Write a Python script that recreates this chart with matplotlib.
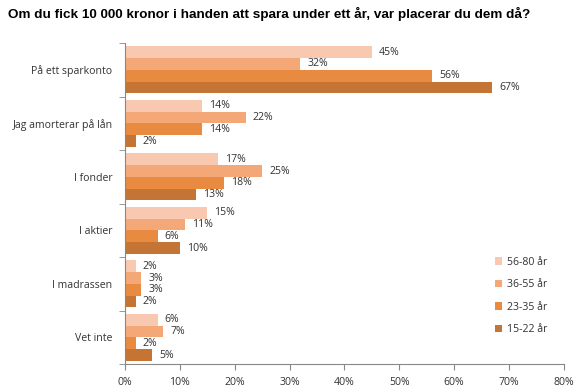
import numpy as np
import matplotlib
import matplotlib.pyplot as plt
from matplotlib.ticker import FixedLocator, PercentFormatter

plt.rcParams['font.family'] = ['Open Sans', 'DejaVu Sans']

categories = ['På ett sparkonto', 'Jag amorterar på lån', 'I fonder',
              'I aktier', 'I madrassen', 'Vet inte']
series = ['56-80 år', '36-55 år', '23-35 år', '15-22 år']
v_56_80 = [45, 14, 17, 15, 2, 6]
v_36_55 = [32, 22, 25, 11, 3, 7]
v_23_35 = [56, 14, 18, 6, 3, 2]
v_15_22 = [67, 2, 13, 10, 2, 5]
values = [v_56_80, v_36_55, v_23_35, v_15_22]
bar_colors = ['#f9c8b0', '#f4a878', '#e88b40', '#c47434']
title = 'Om du fick 10 000 kronor i handen att spara under ett år, var placerar du dem då?'

fig = plt.figure(figsize=(5.8, 3.92), dpi=100)
ax = fig.add_axes([0.2155, 0.071, 0.7565, 0.819])

y = np.arange(len(categories))
h = 0.22
for i, (vals, col, lab) in enumerate(zip(values, bar_colors, series)):
    pos = y - 0.33 + i * h
    bars = ax.barh(pos, vals, height=h, color=col, label=lab, zorder=2)
    for b, v in zip(bars, vals):
        ax.annotate(f'{v}%', (b.get_width(), b.get_y() + h / 2),
                    xytext=(5, 0), textcoords='offset points',
                    va='center', ha='left', fontsize=7.6, color='#333333')

ax.set_ylim(len(categories) - 0.5, -0.5)
ax.set_xlim(0, 80)
ax.set_yticks(y)
ax.set_yticklabels(categories, fontsize=7.6, color='#333333')
ax.yaxis.set_minor_locator(FixedLocator(np.arange(-0.5, len(categories), 1)))
ax.tick_params(axis='y', which='major', length=0, pad=9)
ax.tick_params(axis='y', which='minor', length=4, color='#888888')
ax.set_xticks(np.arange(0, 81, 10))
ax.xaxis.set_major_formatter(PercentFormatter(decimals=0))
ax.tick_params(axis='x', length=4, color='#888888', labelsize=7.6,
               labelcolor='#333333', pad=5)

for s in ['top', 'right']:
    ax.spines[s].set_visible(False)
for s in ['left', 'bottom']:
    ax.spines[s].set_color('#888888')
    ax.spines[s].set_linewidth(0.8)

leg = ax.legend(loc='lower right', bbox_to_anchor=(0.985, 0.06), frameon=False,
                fontsize=7.6, handlelength=0.7, handleheight=0.7,
                labelspacing=1.1, handletextpad=0.5)
for t in leg.get_texts():
    t.set_color('#333333')

fig.text(0.014, 0.965, title, fontsize=9.7, fontweight='bold',
         family=['Liberation Sans', 'DejaVu Sans'], va='center', ha='left')

plt.savefig('out.png')
